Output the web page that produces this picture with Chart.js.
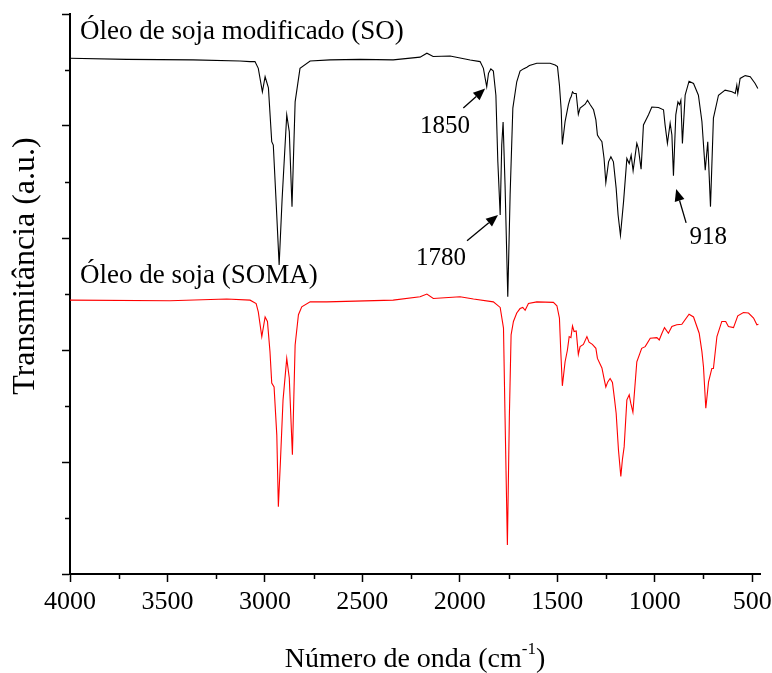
<!DOCTYPE html>
<html><head><meta charset="utf-8">
<script src="https://cdn.jsdelivr.net/npm/chart.js@4.4.1/dist/chart.umd.min.js"></script>
<style>html,body{margin:0;padding:0;background:#fff}#wrap{width:772px;height:673px;position:relative}</style>
</head><body><div id="wrap"><canvas id="c" width="772" height="673"></canvas></div>
<script>
// ---- data (wavenumber in cm-1, transmittance in a.u.) ----
const soWavenumber = [4000,3709,3369,3128,3076,3051,3034,3013,2999,2982,2965,2957,2943,2927,2912,2888,2875,2861,2845,2820,2768,2666,2512,2342,2204,2169,2137,2050,1947,1896,1879,1870,1862,1853,1841,1828,1815,1805,1793,1785,1778,1768,1754,1742,1728,1708,1691,1674,1656,1643,1605,1537,1511,1499,1489,1480,1474,1460,1443,1434,1429,1422,1414,1403,1392,1383,1357,1345,1331,1314,1302,1294,1284,1271,1260,1251,1237,1225,1212,1198,1188,1176,1160,1143,1131,1121,1111,1092,1084,1070,1058,1032,1015,981,955,947,935,921,912,904,892,881,873,866,858,844,824,801,776,758,741,728,714,699,673,639,604,587,579,574,562,536,510,485,471];
const soTransmittance = [92.1,91.9,91.8,91.6,91.5,91.5,90.3,86.1,88.8,86.8,77.2,76.6,66.8,55.2,66.8,82.0,79.0,65.6,84.3,90.3,91.6,91.8,91.9,91.8,92.3,93.0,92.4,92.5,91.8,91.5,90.3,88.5,87.0,89.4,90.2,89.8,85.5,73.6,64.1,76.6,80.7,69.5,49.5,67.7,83.2,87.9,89.8,90.2,90.5,90.8,91.2,91.2,90.9,90.6,87.3,82.9,76.7,80.8,83.8,84.9,85.2,86.1,85.8,85.8,82.1,83.2,83.9,84.6,83.8,82.9,81.1,78.4,77.8,77.2,74.2,69.9,73.6,74.5,73.6,68.9,64.1,60.5,66.5,74.2,73.3,74.8,72.0,76.9,76.0,72.3,80.2,82.0,83.4,83.3,82.9,80.2,76.9,80.5,78.4,71.1,82.0,84.3,83.8,84.6,76.9,85.5,88.0,87.6,85.5,80.8,72.1,77.2,65.6,81.4,85.5,86.4,86.1,85.8,87.3,85.8,88.5,89.0,88.8,87.6,86.7];

const somaWavenumber = [4000,3487,3196,3076,3045,3034,3016,2999,2987,2974,2965,2953,2939,2931,2920,2907,2888,2875,2859,2845,2828,2811,2768,2683,2342,2204,2169,2136,1999,1930,1828,1793,1776,1768,1756,1746,1737,1725,1708,1691,1677,1665,1648,1605,1520,1502,1489,1482,1474,1460,1448,1439,1430,1422,1414,1403,1392,1383,1366,1348,1337,1320,1302,1294,1271,1260,1251,1241,1229,1217,1207,1198,1186,1174,1166,1157,1143,1131,1123,1112,1092,1067,1049,1023,989,977,963,950,930,912,887,861,824,801,772,758,750,738,724,707,699,681,656,636,622,596,574,545,519,493,476,468];
const somaTransmittance = [48.9,48.8,49.1,48.9,48.3,46.8,42.4,45.9,45.1,39.7,34.1,33.4,24.8,12.0,20.4,31.1,38.5,35.0,21.3,40.9,46.3,47.7,48.6,48.6,48.9,49.5,50.0,49.2,49.5,49.1,48.6,47.6,43.9,27.9,5.2,27.9,42.7,45.1,46.6,47.4,47.6,47.1,48.3,48.6,48.5,47.9,45.7,39.7,33.6,37.9,40.0,42.4,42.2,44.3,43.3,43.4,39.2,40.6,41.0,42.4,41.4,41.0,40.3,38.5,36.8,34.9,33.4,34.3,34.9,34.2,31.4,28.7,22.1,17.4,20.4,22.7,31.1,32.0,30.5,28.9,37.9,40.3,40.6,42.1,42.2,41.8,43.0,44.0,43.0,44.2,44.5,44.6,46.4,45.9,43.0,39.7,37.0,29.6,34.3,36.7,36.7,42.4,45.1,45.1,44.2,44.0,46.1,46.7,46.6,45.7,44.5,44.6];

const seriesNames = ['Óleo de soja modificado (SO)', 'Óleo de soja (SOMA)'];
const xTickLabels = [4000, 3500, 3000, 2500, 2000, 1500, 1000, 500];
const xMinorTicks = [3750, 3250, 2750, 2250, 1750, 1250, 750];
const yMajorTicks = [0, 20, 40, 60, 80, 100];
const yMinorTicks = [10, 30, 50, 70, 90];
const peakLabels = ['1850', '1780', '918'];
const xTitle = ['Número de onda (cm', '-1', ')'];
const yTitle = 'Transmitância (a.u.)';

// ---- annotation placement (in data units) ----
const seriesLabelAnchors = [{x: 3949, y: 95.5}, {x: 3949, y: 52.0}];
const peakLabelAnchors = [{x: 2076, y: 78.75}, {x: 2096, y: 55.2}, {x: 726, y: 58.9}];
const arrowAnchors = [
  {from: {x: 1982, y: 83.2}, to: {x: 1870, y: 86.7}},
  {from: {x: 1963, y: 59.5}, to: {x: 1804, y: 64.1}},
  {from: {x: 839, y: 62.7}, to: {x: 890, y: 68.75}}
];

const FONT = "'Liberation Serif','Times New Roman',serif";

const toPts = (xs, ys) => xs.map((x, i) => ({x, y: ys[i]}));

const extras = {
  id: 'extras',
  afterDraw(chart) {
    const {ctx, chartArea} = chart;
    const xs = chart.scales.x, ys = chart.scales.y;
    ctx.save();
    ctx.strokeStyle = '#000';
    ctx.lineWidth = 1.5;
    // minor ticks
    ctx.beginPath();
    xMinorTicks.forEach(v => {
      const p = Math.round(xs.getPixelForValue(v)) + 0.5;
      ctx.moveTo(p, chartArea.bottom); ctx.lineTo(p, chartArea.bottom + 5);
    });
    yMinorTicks.forEach(v => {
      const p = Math.round(ys.getPixelForValue(v)) + 0.5;
      ctx.moveTo(chartArea.left, p); ctx.lineTo(chartArea.left - 5, p);
    });
    ctx.stroke();

    ctx.fillStyle = '#000';
    // series labels
    ctx.font = '27px ' + FONT;
    ctx.textAlign = 'left';
    ctx.textBaseline = 'alphabetic';
    seriesNames.forEach((t, i) => {
      ctx.fillText(t, xs.getPixelForValue(seriesLabelAnchors[i].x), ys.getPixelForValue(seriesLabelAnchors[i].y));
    });
    // peak labels
    ctx.font = '25px ' + FONT;
    ctx.textAlign = 'center';
    peakLabels.forEach((t, i) => {
      ctx.fillText(t, xs.getPixelForValue(peakLabelAnchors[i].x), ys.getPixelForValue(peakLabelAnchors[i].y));
    });
    // arrows
    ctx.lineWidth = 1.3;
    arrowAnchors.forEach(a => {
      const x1 = xs.getPixelForValue(a.from.x), y1 = ys.getPixelForValue(a.from.y);
      const x2 = xs.getPixelForValue(a.to.x), y2 = ys.getPixelForValue(a.to.y);
      const ang = Math.atan2(y2 - y1, x2 - x1);
      const hl = 12, hw = 5;
      const bx = x2 - hl * Math.cos(ang), by = y2 - hl * Math.sin(ang);
      ctx.beginPath(); ctx.moveTo(x1, y1); ctx.lineTo(bx, by); ctx.stroke();
      ctx.beginPath();
      ctx.moveTo(x2, y2);
      ctx.lineTo(bx + hw * Math.sin(ang), by - hw * Math.cos(ang));
      ctx.lineTo(bx - hw * Math.sin(ang), by + hw * Math.cos(ang));
      ctx.closePath(); ctx.fill();
    });
    // x title with superscript
    ctx.textAlign = 'left';
    ctx.font = '28px ' + FONT;
    const w0 = ctx.measureText(xTitle[0]).width;
    const w2 = ctx.measureText(xTitle[2]).width;
    ctx.font = '17px ' + FONT;
    const w1 = ctx.measureText(xTitle[1]).width;
    const total = w0 + w1 + w2;
    let xx = (chartArea.left + chartArea.right) / 2 - total / 2;
    const base = 667;
    ctx.font = '28px ' + FONT;
    ctx.fillText(xTitle[0], xx, base); xx += w0;
    ctx.font = '17px ' + FONT;
    ctx.fillText(xTitle[1], xx, base - 13); xx += w1;
    ctx.font = '28px ' + FONT;
    ctx.fillText(xTitle[2], xx, base);
    // y title
    ctx.translate(26, 266);
    ctx.rotate(-Math.PI / 2);
    ctx.textAlign = 'center';
    ctx.textBaseline = 'middle';
    ctx.font = '32px ' + FONT;
    ctx.fillText(yTitle, 0, 0);
    ctx.restore();
  }
};

new Chart(document.getElementById('c'), {
  type: 'line',
  data: {
    datasets: [
      {label: seriesNames[0], data: toPts(soWavenumber, soTransmittance), borderColor: '#000000', borderWidth: 1.1, pointRadius: 0, tension: 0, fill: false},
      {label: seriesNames[1], data: toPts(somaWavenumber, somaTransmittance), borderColor: '#ff0000', borderWidth: 1.1, pointRadius: 0, tension: 0, fill: false}
    ]
  },
  options: {
    responsive: false,
    animation: false,
    devicePixelRatio: 1,
    layout: {padding: {left: 0, right: 12, top: 14, bottom: 0}},
    plugins: {legend: {display: false}, tooltip: {enabled: false}},
    scales: {
      x: {
        type: 'linear', reverse: true, min: 460, max: 4000,
        afterBuildTicks: s => { s.ticks = xTickLabels.map(v => ({value: v})); },
        afterFit: s => { s.height = 99; s.paddingLeft = 0; s.paddingRight = 0; },
        grid: {drawOnChartArea: false, drawTicks: true, tickLength: 8, tickColor: '#000', tickWidth: 1.5},
        border: {display: true, color: '#000', width: 2},
        ticks: {color: '#000', font: {family: FONT, size: 26}, padding: 5, maxRotation: 0, autoSkip: false, callback: v => String(v)}
      },
      y: {
        type: 'linear', min: 0, max: 100,
        afterBuildTicks: s => { s.ticks = yMajorTicks.map(v => ({value: v})); },
        afterFit: s => { s.width = 70; s.paddingTop = 0; s.paddingBottom = 0; },
        grid: {drawOnChartArea: false, drawTicks: true, tickLength: 8, tickColor: '#000', tickWidth: 1.5},
        border: {display: true, color: '#000', width: 2},
        ticks: {display: false}
      }
    }
  },
  plugins: [extras]
});
</script></body></html>
